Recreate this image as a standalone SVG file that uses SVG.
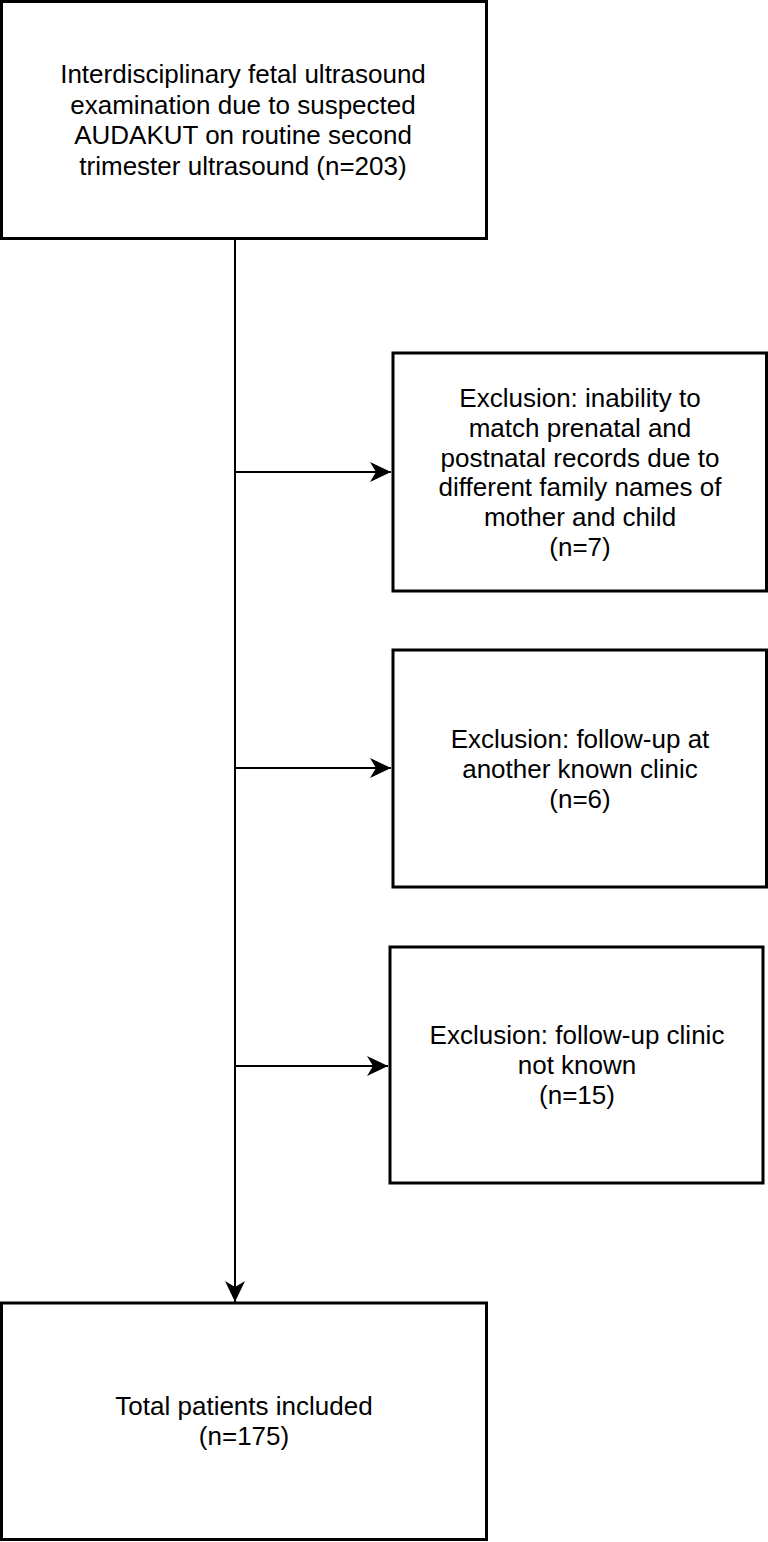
<svg xmlns="http://www.w3.org/2000/svg" width="768" height="1542" viewBox="0 0 768 1542">
<style>
.box{fill:#fff;stroke:#000;stroke-width:3}
.t{font-family:"Liberation Sans",Arial,sans-serif;font-size:26px;fill:#000;text-anchor:middle}
.c{stroke:#000;stroke-width:2;fill:none}
</style>
<defs>
<marker id="ah" markerUnits="userSpaceOnUse" markerWidth="24" markerHeight="22" refX="21" refY="10" orient="auto">
<path d="M0,0 L21,10 L0,20 L6,10 Z" fill="#000"/>
</marker>
</defs>
<rect width="768" height="1542" fill="#fff"/>
<g id="connectors">
<line class="c" x1="235" y1="238" x2="235" y2="1302" marker-end="url(#ah)"/>
<line class="c" x1="235" y1="472" x2="391" y2="472" marker-end="url(#ah)"/>
<line class="c" x1="235" y1="768" x2="391" y2="768" marker-end="url(#ah)"/>
<line class="c" x1="235" y1="1066" x2="388" y2="1066" marker-end="url(#ah)"/>
</g>
<g id="start">
<rect class="box" x="1.5" y="1.5" width="485" height="237"/>
<text class="t" x="243" y="83">Interdisciplinary fetal ultrasound</text>
<text class="t" x="243" y="113.5">examination due to suspected</text>
<text class="t" x="243" y="144">AUDAKUT on routine second</text>
<text class="t" x="243" y="174.5">trimester ultrasound (n=203)</text>
</g>
<g id="excl1">
<rect class="box" x="393" y="353" width="373.5" height="238"/>
<text class="t" x="580" y="407">Exclusion: inability to</text>
<text class="t" x="580" y="437">match prenatal and</text>
<text class="t" x="580" y="466.5">postnatal records due to</text>
<text class="t" x="580" y="496">different family names of</text>
<text class="t" x="580" y="526">mother and child</text>
<text class="t" x="580" y="555.5">(n=7)</text>
</g>
<g id="excl2">
<rect class="box" x="393" y="650" width="373.5" height="237"/>
<text class="t" x="580" y="748">Exclusion: follow-up at</text>
<text class="t" x="580" y="778">another known clinic</text>
<text class="t" x="580" y="808">(n=6)</text>
</g>
<g id="excl3">
<rect class="box" x="390" y="947" width="373" height="236"/>
<text class="t" x="577" y="1044">Exclusion: follow-up clinic</text>
<text class="t" x="577" y="1074">not known</text>
<text class="t" x="577" y="1104">(n=15)</text>
</g>
<g id="included">
<rect class="box" x="1.5" y="1303" width="485" height="236.5"/>
<text class="t" x="244" y="1415">Total patients included</text>
<text class="t" x="244" y="1445">(n=175)</text>
</g>
</svg>
